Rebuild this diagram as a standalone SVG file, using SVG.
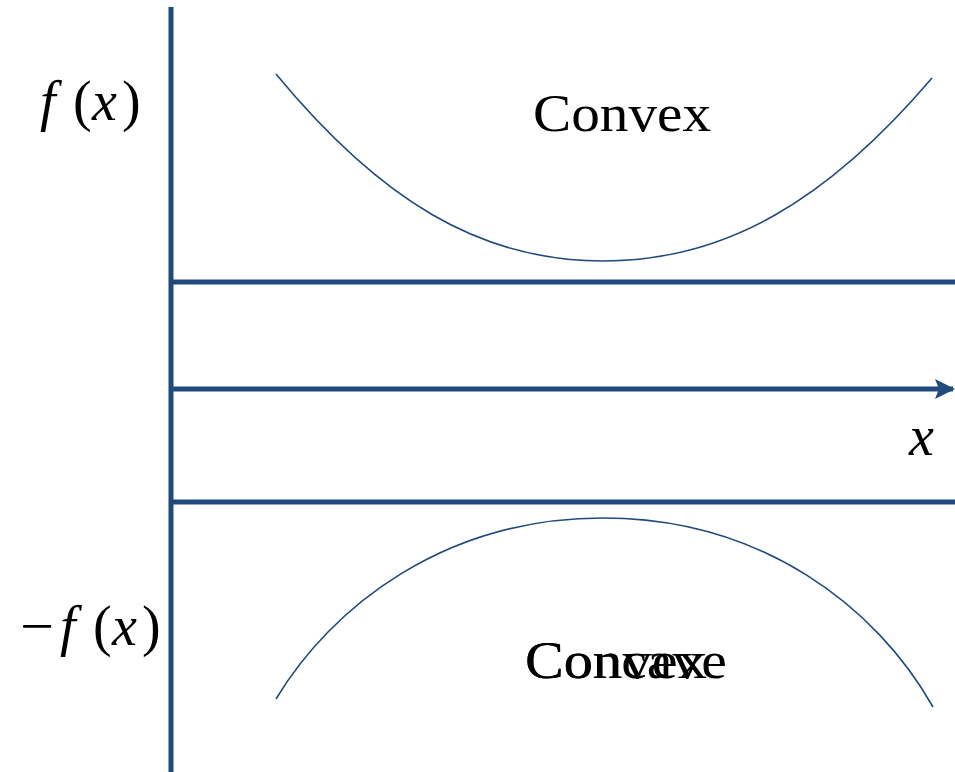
<svg xmlns="http://www.w3.org/2000/svg" width="955" height="772" viewBox="0 0 955 772">
<defs>
<style>
.axis{stroke:#1F4A7C;stroke-width:5;fill:none}
.curve{stroke:#1F4A7C;stroke-width:1.6;fill:none}
.lbl{font-family:"Liberation Serif","DejaVu Serif",serif;font-size:52px;fill:#000}
.math{font-family:"Liberation Serif","DejaVu Serif",serif;font-size:56px;fill:#000}
.it{font-style:italic}
</style>
<marker id="ah" viewBox="0 0 10 10" refX="9" refY="5" markerWidth="4" markerHeight="4" markerUnits="strokeWidth" orient="auto">
<path d="M0,0 L10,5 L0,10 L2,5 Z" fill="#1F4A7C"/>
</marker>
</defs>
<rect width="955" height="772" fill="#fff"/>
<g id="connectors">
<line class="axis" x1="171" y1="7" x2="171" y2="772"/>
<line class="axis" x1="171" y1="282" x2="955" y2="282"/>
<line class="axis" x1="171" y1="389" x2="953" y2="389" marker-end="url(#ah)"/>
<line class="axis" x1="171" y1="502" x2="955" y2="502"/>
</g>
<g id="curve-top"><path class="curve" d="M276,74 C380,200 480,261 603,261 C726,261 828,200 932,78"/></g>
<g id="curve-bottom"><path class="curve" d="M276,699 C332,606 445,518 603,518 C761,518 876,606 933,707"/></g>
<g id="label-convex-top"><text class="lbl" x="533" y="131" textLength="178" lengthAdjust="spacingAndGlyphs">Convex</text></g>
<g id="label-bottom">
<text class="lbl" x="525" y="678" textLength="202" lengthAdjust="spacingAndGlyphs">Concave</text>
<text class="lbl" x="525" y="678" textLength="182" lengthAdjust="spacingAndGlyphs">Convex</text>
</g>
<g id="label-fx"><text class="math" y="120"><tspan class="it" x="40">f</tspan><tspan x="73">(</tspan><tspan class="it" x="92">x</tspan><tspan x="122">)</tspan></text></g>
<g id="label-negfx"><text class="math" y="645"><tspan x="20" textLength="34" lengthAdjust="spacingAndGlyphs">−</tspan><tspan class="it" x="60">f</tspan><tspan x="93">(</tspan><tspan class="it" x="112">x</tspan><tspan x="142">)</tspan></text></g>
<g id="label-x"><text class="math it" x="909" y="455">x</text></g>
</svg>
